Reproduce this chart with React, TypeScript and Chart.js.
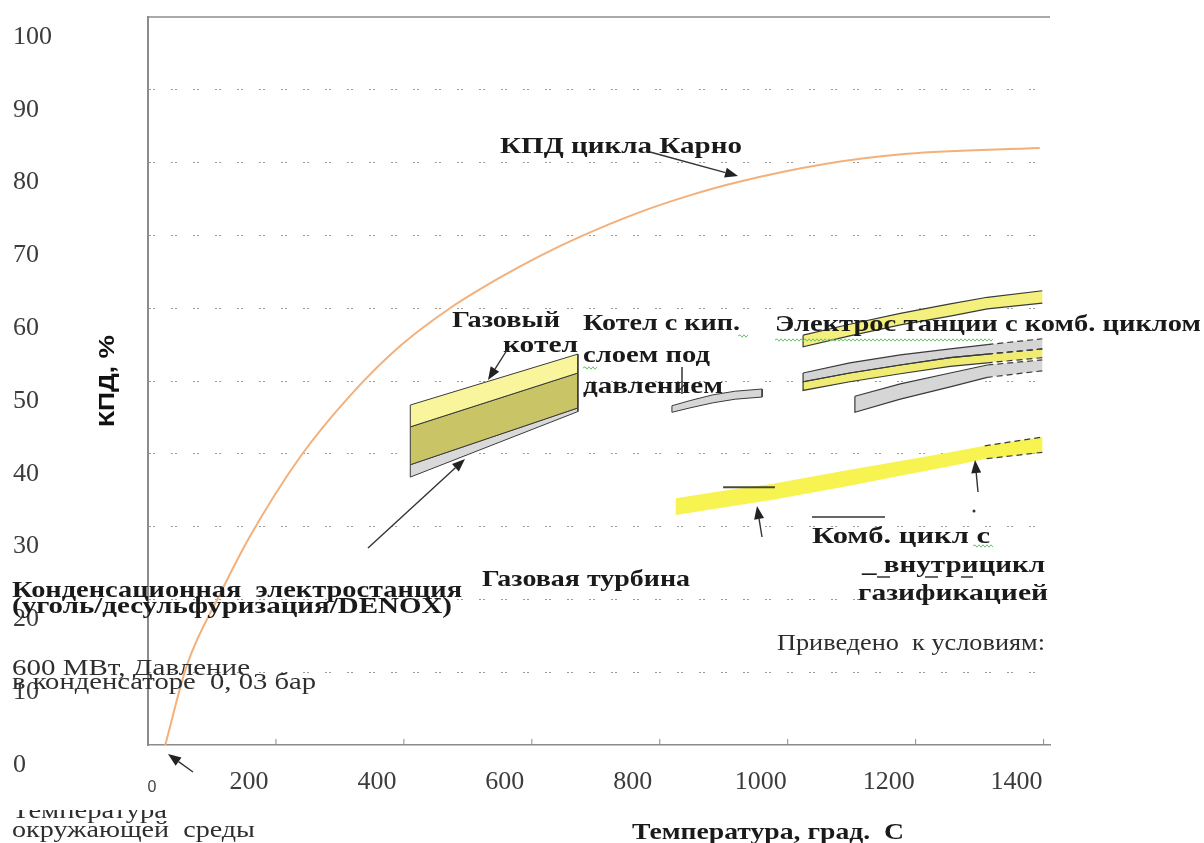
import React, { useEffect, useRef } from 'react';
import { Chart, registerables } from 'chart.js';

Chart.register(...registerables);

// ---------- data (temperature °C, efficiency %) ----------
const carnotTemp = [27, 61, 113, 159, 238, 316, 394, 472, 550, 613, 675, 769, 847, 921, 1058, 1187, 1394];
const carnotEff = [0, 11.0, 20.8, 28.6, 39.6, 48.0, 54.8, 60.0, 64.2, 67.2, 69.8, 73.2, 75.5, 77.3, 79.8, 81.2, 82.0];

const gasBoilerTemp = [410, 672];
const gasBoilerTop = [46.7, 53.7];
const gasBoilerMid = [43.7, 51.1];
const gasBoilerLow = [38.5, 46.3];
const gasBoilerBase = [36.8, 45.8];

const pfbcTemp = [819, 847, 883, 918, 960];
const pfbcTop = [46.6, 47.3, 48.1, 48.6, 48.9];
const pfbcBottom = [45.7, 46.3, 47.0, 47.5, 47.8];

const ccTemp = [1024, 1097, 1176, 1254, 1312, 1398];
const ccUpperTop = [56.3, 57.8, 59.3, 60.6, 61.5, 62.4];
const ccUpperBottom = [54.7, 56.2, 57.7, 58.9, 59.9, 60.7];
const ccMidTop = [51.1, 52.5, 53.6, 54.4, 55.0, 55.8];
const ccMidCenter = [49.9, 51.1, 52.2, 53.2, 53.7, 54.4];
const ccMidBottom = [48.7, 49.9, 51.0, 52.0, 52.5, 53.2];
const ccLowTemp = [1105, 1176, 1254, 1312, 1398];
const ccLowTop = [47.9, 49.6, 51.1, 52.2, 52.9];
const ccLowBottom = [45.7, 47.5, 49.2, 50.5, 51.4];

const igccTemp = [825, 897, 977, 1097, 1176, 1254, 1308, 1398];
const igccTop = [33.9, 34.9, 35.9, 37.8, 39.0, 40.2, 41.1, 42.3];
const igccBottom = [31.6, 32.6, 33.7, 35.6, 37.0, 38.3, 39.3, 40.2];

const gtMarkTemp = [899, 980];
const gtMarkEff = [35.4, 35.4];

// solid outline ends here, dashed extrapolation beyond (°C)
const ccUpperSolidEnd = 1316;
const ccSolidEnd = 1312;
const igccSolidEnd = 1308;

const xMin = 0;
const xMax = 1410;
const xTickValues = [0, 200, 400, 600, 800, 1000, 1200, 1400];
const yMin = 0;
const yMax = 100;
const yStep = 10;

// ---------- styles ----------
const OUTLINE = '#3a3a3a';
const SERIF = "'Liberation Serif', 'Times New Roman', serif";
const SANS = "'Liberation Sans', Arial, sans-serif";

type Pt = { x: number; y: number };

function polygon(xs: number[], top: number[], bottom: number[]): Pt[] {
  const pts: Pt[] = xs.map((x, i) => ({ x, y: top[i] }));
  for (let i = xs.length - 1; i >= 0; i--) pts.push({ x: xs[i], y: bottom[i] });
  pts.push({ x: xs[0], y: top[0] });
  return pts;
}
function pairs(xs: number[], ys: number[]): Pt[] {
  return xs.map((x, i) => ({ x, y: ys[i] }));
}

function solidPoly(pts: Pt[], color: string, order = 3) {
  return {
    data: pts, fill: 'shape', backgroundColor: color, borderColor: OUTLINE, borderWidth: 1,
    pointRadius: 0, tension: 0, order,
  };
}
function fillPoly(pts: Pt[], color: string) {
  return {
    data: pts, fill: 'shape', backgroundColor: color, borderColor: 'rgba(0,0,0,0)', borderWidth: 0,
    pointRadius: 0, tension: 0, order: 4,
  };
}
function outlinePoly(pts: Pt[], solidEnd: number, solidPart: boolean) {
  const right = Math.max(...pts.map((p) => p.x));
  const kind = (c: any) => {
    const a = pts[c.p0DataIndex];
    const b = pts[c.p1DataIndex];
    if (!a || !b) return 'solid';
    if (a.x >= right && b.x >= right) return 'none';
    if (a.x >= solidEnd && b.x >= solidEnd) return 'dash';
    return solidPart ? 'solid' : 'none';
  };
  return {
    data: pts, fill: false, borderColor: OUTLINE, borderWidth: 1.2, pointRadius: 0, tension: 0, order: 2,
    segment: {
      borderColor: (c: any) => (kind(c) === 'none' ? 'rgba(0,0,0,0)' : OUTLINE),
      borderDash: (c: any) => (kind(c) === 'dash' ? [6, 4] : []),
    },
  };
}

// ---------- annotation texts (canvas pixels) ----------
const TEXTS = [
  { t: 'КПД цикла Карно', x: 500, y: 153, w: 242, b: true },
  { t: 'Газовый', x: 452, y: 327, w: 108, b: true },
  { t: 'котел', x: 503, y: 352, w: 75, b: true },
  { t: 'Котел с кип.', x: 583, y: 330, w: 157, b: true },
  { t: 'слоем под', x: 583, y: 362, w: 127, b: true },
  { t: 'давлением', x: 583, y: 393, w: 140, b: true },
  { t: 'Электрос танции с комб. циклом', x: 775, y: 331, w: 426, b: true },
  { t: 'Газовая турбина', x: 482, y: 586, w: 208, b: true },
  { t: 'Конденсационная  электростанция', x: 12, y: 597, w: 450, b: true },
  { t: '(уголь/десульфуризация/DENOX)', x: 12, y: 613, w: 440, b: true },
  { t: '600 МВт, Давление', x: 12, y: 675, w: 238, b: false },
  { t: 'в конденсаторе  0, 03 бар', x: 12, y: 689, w: 304, b: false },
  { t: 'окружающей  среды', x: 12, y: 837, w: 243, b: false },
  { t: 'Комб. цикл с', x: 812, y: 543, w: 178, b: true },
  { t: '_ внутрицикл', x: 862, y: 572, w: 183, b: true },
  { t: 'газификацией', x: 858, y: 600, w: 190, b: true },
  { t: 'Приведено  к условиям:', x: 777, y: 650, w: 268, b: false },
  { t: 'Температура, град.  С', x: 632, y: 839, w: 272, b: true },
];

const ARROWS = [
  [650, 152, 738, 176],
  [507, 350, 488, 380],
  [368, 548, 465, 459],
  [193, 772, 168, 754],
  [762, 537, 757, 506],
  [978, 492, 975, 460],
];

const SQUIGGLES = [
  [775, 993, 340],
  [738, 748, 336],
  [583, 598, 368],
  [973, 993, 546],
];

function fitText(ctx: CanvasRenderingContext2D, text: string, x: number, y: number, w: number, font: string, color: string) {
  ctx.save();
  ctx.font = font;
  ctx.fillStyle = color;
  ctx.textAlign = 'left';
  ctx.textBaseline = 'alphabetic';
  const m = ctx.measureText(text).width || 1;
  ctx.translate(x, y);
  ctx.scale(w / m, 1);
  ctx.fillText(text, 0, 0);
  ctx.restore();
}

function arrow(ctx: CanvasRenderingContext2D, x1: number, y1: number, x2: number, y2: number) {
  const ang = Math.atan2(y2 - y1, x2 - x1);
  const hl = 13;
  const hw = 5;
  const bx = x2 - hl * Math.cos(ang);
  const by = y2 - hl * Math.sin(ang);
  ctx.save();
  ctx.strokeStyle = '#333';
  ctx.fillStyle = '#222';
  ctx.lineWidth = 1.4;
  ctx.beginPath();
  ctx.moveTo(x1, y1);
  ctx.lineTo(bx, by);
  ctx.stroke();
  ctx.beginPath();
  ctx.moveTo(x2, y2);
  ctx.lineTo(bx + hw * Math.sin(ang), by - hw * Math.cos(ang));
  ctx.lineTo(bx - hw * Math.sin(ang), by + hw * Math.cos(ang));
  ctx.closePath();
  ctx.fill();
  ctx.restore();
}

const annotationPlugin = {
  id: 'annotations',
  afterDraw(chart: any) {
    const { ctx, chartArea: a } = chart;
    const xs = chart.scales.x;
    ctx.save();
    // top frame line
    ctx.strokeStyle = '#8c8c8c';
    ctx.lineWidth = 1.5;
    ctx.beginPath();
    ctx.moveTo(a.left, a.top);
    ctx.lineTo(a.right, a.top);
    ctx.stroke();
    // inner tick marks on x axis
    ctx.lineWidth = 1;
    xs.ticks.forEach((t: any) => {
      if (t.value <= 0) return;
      const px = xs.getPixelForValue(t.value);
      ctx.beginPath();
      ctx.moveTo(px, a.bottom);
      ctx.lineTo(px, a.bottom - 6);
      ctx.stroke();
    });
    // small "0" at origin of x axis
    ctx.fillStyle = '#444';
    ctx.font = `16px ${SANS}`;
    ctx.textAlign = 'center';
    ctx.textBaseline = 'middle';
    ctx.fillText('0', xs.getPixelForValue(0) + 4, 788);

    // y axis title
    ctx.save();
    ctx.translate(108, 381);
    ctx.rotate(-Math.PI / 2);
    ctx.font = `bold 22px ${SANS}`;
    const tw = ctx.measureText('КПД, %').width || 1;
    ctx.scale(92 / tw, 1);
    ctx.fillStyle = '#111';
    ctx.textAlign = 'center';
    ctx.textBaseline = 'middle';
    ctx.fillText('КПД, %', 0, 0);
    ctx.restore();

    // texts
    TEXTS.forEach((s) => {
      fitText(ctx, s.t, s.x, s.y, s.w, `${s.b ? 'bold ' : ''}23px ${SERIF}`, s.b ? '#1a1a1a' : '#2e2e2e');
    });
    // half-hidden "Температура"
    ctx.save();
    ctx.beginPath();
    ctx.rect(0, 810, 300, 40);
    ctx.clip();
    fitText(ctx, 'Температура', 12, 818, 155, `23px ${SERIF}`, '#2e2e2e');
    ctx.restore();

    // arrows
    ARROWS.forEach((r) => arrow(ctx, r[0], r[1], r[2], r[3]));

    // decorations
    ctx.strokeStyle = '#333';
    ctx.lineWidth = 1.5;
    ctx.beginPath();
    ctx.moveTo(812, 517);
    ctx.lineTo(885, 517);
    ctx.stroke();
    ctx.beginPath();
    ctx.moveTo(682, 367);
    ctx.lineTo(682, 394);
    ctx.stroke();
    [[877, 890], [925, 938], [961, 973]].forEach(([u0, u1]) => {
      ctx.beginPath();
      ctx.moveTo(u0, 577);
      ctx.lineTo(u1, 577);
      ctx.stroke();
    });
    ctx.fillStyle = '#333';
    ctx.beginPath();
    ctx.arc(974, 511, 1.5, 0, Math.PI * 2);
    ctx.fill();
    // spell-check squiggles
    ctx.strokeStyle = '#6cbf6c';
    ctx.lineWidth = 1;
    SQUIGGLES.forEach(([s0, s1, sy]) => {
      ctx.beginPath();
      let up = true;
      ctx.moveTo(s0, sy);
      for (let px = s0 + 2; px <= s1; px += 2) {
        ctx.lineTo(px, sy + (up ? -1.2 : 1.2));
        up = !up;
      }
      ctx.stroke();
    });
    ctx.restore();
  },
};

export default function App() {
  const ref = useRef<HTMLCanvasElement>(null);

  useEffect(() => {
    if (!ref.current) return;
    const datasets: any[] = [
      // Carnot efficiency
      {
        data: pairs(carnotTemp, carnotEff), borderColor: '#f3b07a', borderWidth: 2, fill: false,
        pointRadius: 0, cubicInterpolationMode: 'monotone', order: 0,
      },
      // gas boiler block
      solidPoly(polygon(gasBoilerTemp, gasBoilerTop, gasBoilerMid), '#f8f59c'),
      solidPoly(polygon(gasBoilerTemp, gasBoilerMid, gasBoilerLow), '#c9c466'),
      solidPoly(polygon(gasBoilerTemp, gasBoilerLow, gasBoilerBase), '#d9d9d9'),
      // pressurised fluidised bed boiler
      solidPoly(polygon(pfbcTemp, pfbcTop, pfbcBottom), '#d6d6d6'),
      // combined cycle plants
      fillPoly(polygon(ccTemp, ccUpperTop, ccUpperBottom), '#f4f07e'),
      outlinePoly(polygon(ccTemp, ccUpperTop, ccUpperBottom), ccUpperSolidEnd, true),
      fillPoly(polygon(ccTemp, ccMidTop, ccMidCenter), '#d4d4d4'),
      outlinePoly(polygon(ccTemp, ccMidTop, ccMidCenter), ccSolidEnd, true),
      fillPoly(polygon(ccTemp, ccMidCenter, ccMidBottom), '#efeb73'),
      outlinePoly(polygon(ccTemp, ccMidCenter, ccMidBottom), ccSolidEnd, true),
      fillPoly(polygon(ccLowTemp, ccLowTop, ccLowBottom), '#d6d6d6'),
      outlinePoly(polygon(ccLowTemp, ccLowTop, ccLowBottom), ccSolidEnd, true),
      // gas turbine / IGCC band
      fillPoly(polygon(igccTemp, igccTop, igccBottom), '#f7f351'),
      outlinePoly(polygon(igccTemp, igccTop, igccBottom), igccSolidEnd, false),
      {
        data: pairs(gtMarkTemp, gtMarkEff), borderColor: '#4a4a3a', borderWidth: 2, fill: false,
        pointRadius: 0, order: 1,
      },
    ];

    const chart = new Chart(ref.current, {
      type: 'line',
      data: { datasets },
      options: {
        animation: false,
        responsive: false,
        maintainAspectRatio: false,
        layout: { padding: { left: 13, top: 17, right: 154, bottom: 0 } },
        plugins: {
          legend: { display: false },
          tooltip: { enabled: false },
          title: { display: false },
        },
        scales: {
          x: {
            type: 'linear',
            min: xMin,
            max: xMax,
            afterBuildTicks: (s: any) => { s.ticks = xTickValues.map((v) => ({ value: v })); },
            afterFit: (s: any) => { s.height = 98; },
            grid: { color: 'rgba(0,0,0,0)', drawTicks: false },
            border: { color: '#8c8c8c', width: 1.5 },
            ticks: {
              labelOffset: -27,
              padding: 22,
              maxRotation: 0,
              autoSkip: false,
              color: '#3c3c3c',
              font: { family: SERIF, size: 26 },
              callback: (v: any) => (Number(v) === 0 ? '' : String(v)),
            },
          },
          y: {
            type: 'linear',
            min: yMin,
            max: yMax,
            afterFit: (s: any) => { s.width = 135; },
            grid: {
              color: (c: any) => (c.tick && c.tick.value > yMin && c.tick.value < yMax ? '#9c9c9c' : 'rgba(0,0,0,0)'),
              drawTicks: false,
              lineWidth: 1,
            },
            border: { color: '#8c8c8c', width: 2, dash: [2, 2, 2, 16] },
            ticks: {
              stepSize: yStep,
              labelOffset: 20,
              crossAlign: 'far',
              padding: 0,
              autoSkip: false,
              color: '#3c3c3c',
              font: { family: SERIF, size: 26 },
            },
          },
        },
      } as any,
      plugins: [annotationPlugin],
    } as any);
    return () => chart.destroy();
  }, []);

  return (
    <div style={{ position: 'fixed', left: 0, top: 0, width: 1204, height: 843, background: '#fff' }}>
      <canvas ref={ref} width={1204} height={843} style={{ display: 'block', width: 1204, height: 843 }} />
    </div>
  );
}
